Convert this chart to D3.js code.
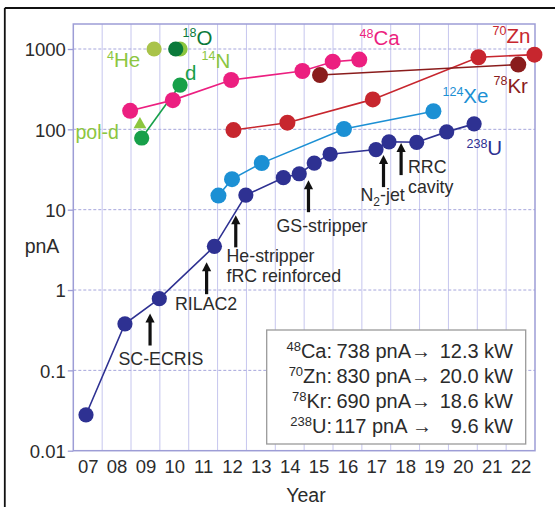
<!DOCTYPE html>
<html><head><meta charset="utf-8">
<script src="https://cdn.jsdelivr.net/npm/d3@7"></script>
<style>
html,body{margin:0;padding:0;background:#fff;}
svg{display:block;font-family:"Liberation Sans",Arial,sans-serif;}
</style></head>
<body>
<svg id="chart" width="555" height="507"></svg>
<script>
// ---------- DATA ----------
const yearLabels = ["07","08","09","10","11","12","13","14","15","16","17","18","19","20","21","22"];
const yTickValues = [0.01, 0.1, 1, 10, 100, 1000];
const yTickLabels = ["0.01","0.1","1","10","100","1000"];

const uYears  = [2007.44, 2008.79, 2009.98, 2011.89, 2012.98, 2014.28, 2014.83, 2015.35, 2015.90, 2017.49, 2017.94, 2018.90, 2019.94, 2020.89];
const uValues = [0.028, 0.38, 0.78, 3.5, 15.2, 25, 28, 38, 49, 56, 70, 69, 93, 117];

const xeYears  = [2012.03, 2012.50, 2013.53, 2016.38, 2019.48];
const xeValues = [15, 24, 38, 101, 168];

const znYears  = [2012.55, 2014.42, 2017.38, 2021.04, 2022.98];
const znValues = [98, 121, 236, 790, 850];

const krYears  = [2015.55, 2022.42];
const krValues = [474, 640];

const caYears  = [2008.97, 2010.45, 2012.47, 2014.94, 2015.99, 2016.91];
const caValues = [170, 231, 411, 532, 695, 738];

const dYears  = [2009.37, 2010.70];
const dValues = [78, 356];

const poldYears  = [2009.31];
const poldValues = [115];

const heYears = [2009.80];   const heValues = [1000];
const nYears  = [2010.70];   const nValues  = [1000];
const oYears  = [2010.55];   const oValues  = [1000];

// annotation arrows: tip position (year, pnA)
const arrowYears  = [2009.66, 2011.62, 2012.63, 2015.15, 2017.75, 2018.36];
const arrowValues = [0.51, 2.22, 8.5, 23.3, 47.8, 67.4];

// legend
const legNames = [["48","Ca:"],["70","Zn:"],["78","Kr:"],["238","U:"]];
const legCurrent = ["738 pnA\u2192","830 pnA\u2192","690 pnA\u2192","117 pnA \u2192"];
const legPower = ["12.3 kW","20.0 kW","18.6 kW","9.6 kW"];

// ---------- LAYOUT ----------
const svg = d3.select("#chart");
const L = 73.3, R = 535, T = 24, B = 450.7;
const x = d3.scaleLinear().domain([2007, 2023]).range([L, R]);
const y = d3.scaleLog().domain([0.01, Math.pow(10, 3 + (49 - 24) / 80.34)]).range([B, T]);

const gridV = "#c6c6ee", gridH = "#a6a6dc", frame = "#9d9dd6", txt = "#2b2b2b";

// outer black border (top & left)
svg.append("line").attr("x1",4.8).attr("x2",555).attr("y1",8).attr("y2",8).attr("stroke","#111").attr("stroke-width",1.8);
svg.append("line").attr("x1",4.8).attr("x2",4.8).attr("y1",8).attr("y2",507).attr("stroke","#111").attr("stroke-width",1.8);

// vertical grid
svg.append("g").selectAll("line").data(d3.range(2008, 2023)).join("line")
  .attr("x1", d => x(d)).attr("x2", d => x(d)).attr("y1", T).attr("y2", B)
  .attr("stroke", gridV).attr("stroke-width", 1);
// horizontal dashed grid
svg.append("g").selectAll("line").data([0.1, 1, 10, 100, 1000]).join("line")
  .attr("x1", L).attr("x2", R).attr("y1", d => y(d)).attr("y2", d => y(d))
  .attr("stroke", gridH).attr("stroke-width", 1).attr("stroke-dasharray", "3,2");
// frame
svg.append("rect").attr("x", L).attr("y", T).attr("width", R - L).attr("height", B - T)
  .attr("fill", "none").attr("stroke", frame).attr("stroke-width", 1.5);

// y axis ticks & labels
const yAxis = d3.axisLeft(y).tickValues(yTickValues)
  .tickFormat((d, i) => yTickLabels[i]).tickSize(5.5).tickPadding(2);
const ya = svg.append("g").attr("transform", `translate(${L},0)`).call(yAxis);
ya.select(".domain").remove();
ya.selectAll(".tick line").attr("stroke", frame).attr("stroke-width", 1.3);
ya.selectAll(".tick text").attr("fill", txt).attr("font-size", 18.5)
  .attr("font-family", "Liberation Sans, Arial, sans-serif").attr("dy", "0.36em");

// x axis labels (band centers)
const xAxis = d3.axisBottom(x).tickValues(d3.range(2007, 2023).map(v => v + 0.5))
  .tickFormat((d, i) => yearLabels[i]).tickSize(0).tickPadding(9);
const xa = svg.append("g").attr("transform", `translate(0,${B})`).call(xAxis);
xa.select(".domain").remove();
xa.selectAll(".tick text").attr("fill", txt).attr("font-size", 18.5)
  .attr("font-family", "Liberation Sans, Arial, sans-serif");

svg.append("text").attr("x", 42).attr("y", 252.7).attr("text-anchor", "middle")
  .attr("font-size", 19.5).attr("fill", txt).text("pnA");
svg.append("text").attr("x", 306).attr("y", 502).attr("text-anchor", "middle")
  .attr("font-size", 19.5).attr("fill", txt).text("Year");

// ---------- SERIES ----------
function zip(xs, vs){ return xs.map((d, i) => ({x: d, v: vs[i]})); }
const line = d3.line().x(d => x(d.x)).y(d => y(d.v));
const series = [
  {data: zip(dYears, dValues),   color: "#17a04a", line: true,  r: 7.6},
  {data: zip(caYears, caValues), color: "#ec1f80", line: true,  r: 8},
  {data: zip(znYears, znValues), color: "#c7262e", line: true,  r: 8},
  {data: zip(krYears, krValues), color: "#8a1c1c", line: true,  r: 8},
  {data: zip(xeYears, xeValues), color: "#1c90d4", line: true,  r: 8},
  {data: zip(uYears, uValues),   color: "#2e3192", line: true,  r: 7.6},
  {data: zip(heYears, heValues), color: "#a9c34a", line: false, r: 7.6},
  {data: zip(nYears, nValues),   color: "#8cc63f", line: false, r: 7.6},
  {data: zip(oYears, oValues),   color: "#0b7a3b", line: false, r: 7.6}
];
series.forEach(s => {
  if (s.line) svg.append("path").datum(s.data).attr("d", line)
    .attr("fill", "none").attr("stroke", s.color).attr("stroke-width", 1.6);
});
series.forEach(s => {
  svg.append("g").selectAll("circle").data(s.data).join("circle")
    .attr("cx", d => x(d.x)).attr("cy", d => y(d.v)).attr("r", s.r).attr("fill", s.color);
});
// pol-d triangle
svg.append("g").selectAll("path").data(zip(poldYears, poldValues)).join("path")
  .attr("d", d3.symbol(d3.symbolTriangle, 70))
  .attr("transform", d => `translate(${x(d.x)},${y(d.v)})`)
  .attr("fill", "#8cc63f");

// ---------- LABELS ----------
function isoLabel(px, py, sup, main, color, size, supSize){
  const t = svg.append("text").attr("x", px).attr("y", py).attr("fill", color);
  if (sup) t.append("tspan").attr("font-size", supSize).attr("dy", -size * 0.36).text(sup);
  t.append("tspan").attr("font-size", size).attr("dy", sup ? size * 0.36 : 0).text(main);
  return t;
}
isoLabel(359.5, 45, "48", "Ca", "#ec1f80", 20.5, 12.5);
isoLabel(492.5, 42.7, "70", "Zn", "#c7262e", 20.5, 12.5);
isoLabel(493.5, 92.7, "78", "Kr", "#8a1c1c", 20.5, 12.5);
isoLabel(442.5, 103.3, "124", "Xe", "#1c90d4", 20.5, 12.5);
isoLabel(466.5, 155, "238", "U", "#2e3192", 20.5, 12.5);
isoLabel(182.5, 44.5, "18", "O", "#0b7a3b", 20.5, 12.5);
isoLabel(107, 67, "4", "He", "#8cc63f", 20.5, 12.5);
isoLabel(201.5, 67.5, "14", "N", "#8cc63f", 20.5, 12.5);
isoLabel(185, 80, null, "d", "#17a04a", 20.5, 12.5);
isoLabel(75.5, 138.5, null, "pol-d", "#8cc63f", 19.5, 12.5);

// arrows
const arrowLen = 32;
arrowYears.forEach((ay, i) => {
  const ax = x(ay), ty = y(arrowValues[i]);
  svg.append("line").attr("x1", ax).attr("x2", ax).attr("y1", ty + 7).attr("y2", ty + arrowLen)
    .attr("stroke", "#111").attr("stroke-width", 3.2);
  svg.append("path").attr("d", `M${ax},${ty} L${ax - 4.6},${ty + 9} L${ax + 4.6},${ty + 9} Z`).attr("fill", "#111");
});

const annFont = 17.8;
function ann(px, py, str){
  svg.append("text").attr("x", px).attr("y", py).attr("font-size", annFont).attr("fill", txt).text(str);
}
ann(118.5, 365, "SC-ECRIS");
ann(175, 310, "RILAC2");
ann(226.5, 261.7, "He-stripper");
ann(226.5, 281.7, "fRC reinforced");
ann(276.5, 231.7, "GS-stripper");
ann(408, 172.7, "RRC");
ann(408, 193, "cavity");
{
  const t = svg.append("text").attr("x", 360.5).attr("y", 201).attr("font-size", annFont).attr("fill", txt);
  t.append("tspan").text("N");
  t.append("tspan").attr("font-size", 12).attr("dy", 5).text("2");
  t.append("tspan").attr("dy", -5).text("-jet");
}

// legend box
svg.append("rect").attr("x", 266.7).attr("y", 330).attr("width", 259).attr("height", 114)
  .attr("fill", "#fff").attr("stroke", "#9a9a9a").attr("stroke-width", 1.3);
const legBase = [357.5, 382.5, 407.5, 432.5];
legNames.forEach((nm, i) => {
  const t = svg.append("text").attr("x", 332).attr("y", legBase[i]).attr("text-anchor", "end").attr("fill", txt);
  t.append("tspan").attr("font-size", 13).attr("dy", -7).text(nm[0]);
  t.append("tspan").attr("font-size", 20).attr("dy", 7).text(nm[1]);
  svg.append("text").attr("x", i === 3 ? 334.5 : 336.5).attr("y", legBase[i]).attr("font-size", 20).attr("fill", txt).text(legCurrent[i]);
  svg.append("text").attr("x", 513).attr("y", legBase[i]).attr("text-anchor", "end").attr("font-size", 20).attr("fill", txt).text(legPower[i]);
});
</script>
</body></html>
